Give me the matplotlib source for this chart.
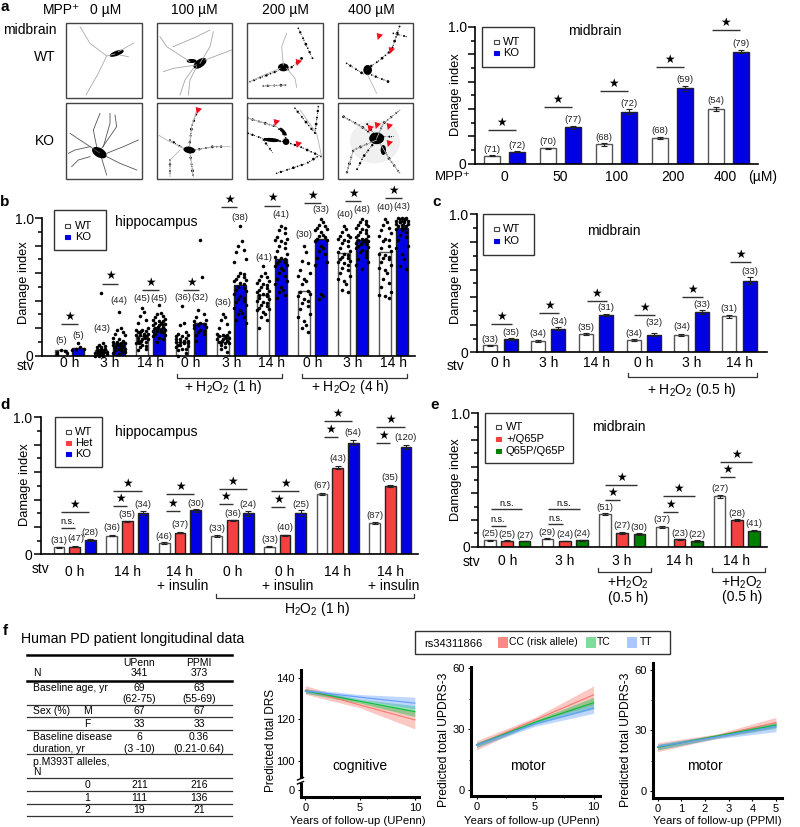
#!/usr/bin/env python3
import numpy as np
import matplotlib
matplotlib.use("Agg")
import matplotlib.pyplot as plt
from matplotlib.patches import Rectangle, Ellipse

plt.rcParams["font.family"] = ["Liberation Sans", "DejaVu Sans"]
plt.rcParams["mathtext.fontset"] = "custom"
plt.rcParams["mathtext.rm"] = "Liberation Sans"
plt.rcParams["mathtext.default"] = "regular"

WHITE, BLUE, RED, GREEN = "white", "#0000e6", "#f54040", "#008000"
H2O2 = "H$_2$O$_2$"

# panel a
a_labels = ["0", "50", "100", "200", "400"]
a_wt = [0.056, 0.11, 0.14, 0.186, 0.40]
a_ko = [0.086, 0.265, 0.38, 0.55, 0.82]
a_wt_err = [0.003, 0.004, 0.009, 0.010, 0.015]
a_ko_err = [0.004, 0.009, 0.016, 0.020, 0.013]
a_wt_n = [71, 70, 68, 68, 54]
a_ko_n = [72, 77, 72, 59, 79]

# panel b
b_labels = ["0 h", "3 h", "14 h", "0 h", "3 h", "14 h", "0 h", "3 h", "14 h"]
b_wt = [0.04, 0.04, 0.143, 0.10, 0.14, 0.44, 0.47, 0.745, 0.75]
b_ko = [0.058, 0.09, 0.204, 0.235, 0.51, 0.705, 0.847, 0.842, 0.927]
b_wt_n = [5, 43, 45, 36, 36, 41, 30, 40, 40]
b_ko_n = [5, 44, 45, 32, 38, 41, 33, 48, 43]
b_wt_pts = [
    [.04, .035, .03, .02, .01],
    [.455, .09, .08, .07, .06, .06, .05, .05, .04, .04, .04, .03, .03, .03, .03, .02, .02, .02, .02, .01, .01, .01, .01, 0, 0, 0],
    [.35, .32, .29, .26, .24, .2, .19, .19, .18, .18, .17, .17, .16, .16, .15, .15, .14, .14, .13, .13, .12, .12, .11, .11, .1, .1, .09, .09, .08, .07, .06, .05, .04],
    [.36, .235, .22, .17, .16, .15, .14, .14, .13, .12, .12, .11, .11, .1, .1, .09, .09, .08, .08, .07, .06, .05, .05, .04, .02, 0],
    [.3, .28, .26, .23, .2, .17, .16, .15, .15, .14, .14, .13, .13, .12, .12, .11, .11, .1, .1, .09, .09, .08, .06, .05, .03],
    [.65, .6, .58, .57, .55, .54, .53, .52, .51, .5, .49, .48, .47, .46, .45, .45, .44, .43, .42, .41, .4, .39, .38, .37, .36, .35, .34, .33, .32, .3, .28, .26, .2],
    [.8, .75, .69, .67, .62, .6, .58, .56, .54, .52, .47, .46, .45, .43, .41, .4, .38, .36, .34, .3, .28, .25, .22, .2, .17],
    [.94, .92, .9, .88, .87, .86, .85, .84, .83, .82, .8, .78, .76, .75, .74, .73, .72, .71, .7, .69, .68, .67, .66, .64, .62, .6, .58, .56, .54, .52, .48, .46],
    [.99, .97, .95, .93, .91, .89, .87, .85, .84, .83, .8, .78, .76, .74, .73, .72, .71, .7, .68, .66, .64, .62, .6, .56, .53, .5, .46, .44, .43, .42],
]
b_ko_pts = [
    [.09, .06, .05, .05, .04],
    [.32, .2, .19, .17, .16, .15, .13, .12, .11, .1, .1, .09, .09, .08, .08, .08, .07, .07, .06, .06, .05, .05, .05, .04, .04, .03, .03, .02, .01],
    [.365, .31, .3, .29, .28, .27, .26, .25, .25, .24, .24, .23, .23, .22, .22, .21, .21, .2, .2, .19, .19, .18, .18, .17, .17, .16, .15, .14, .13, .12, .1],
    [.84, .57, .33, .3, .28, .26, .25, .24, .23, .22, .22, .21, .2, .19, .18, .17, .16, .15, .11],
    [.94, .83, .8, .77, .75, .7, .68, .6, .59, .58, .57, .56, .55, .54, .53, .52, .5, .49, .48, .47, .45, .43, .42, .41, .4, .39, .37, .35, .33, .31, .3, .28, .26, .24],
    [.94, .93, .91, .89, .86, .85, .84, .83, .82, .8, .78, .76, .74, .72, .71, .7, .69, .68, .67, .66, .65, .64, .62, .6, .58, .56, .54, .52, .5, .48, .46, .44, .42],
    [.99, .97, .95, .94, .93, .92, .91, .9, .88, .87, .86, .85, .84, .83, .8, .78, .76, .74, .71, .68, .66, .45, .43, .41],
    [.99, .98, .97, .96, .95, .94, .93, .92, .91, .9, .89, .88, .87, .86, .85, .85, .84, .84, .83, .83, .82, .82, .81, .81, .8, .79, .78, .77, .76, .75, .74, .72, .7, .68, .66, .63],
    [1, 1, 1, .99, .99, .99, .98, .98, .98, .97, .97, .97, .96, .96, .95, .95, .94, .94, .93, .93, .92, .91, .9, .88, .86, .84, .8, .78, .74, .7, .65, .63],
]

# panel c
c_labels = ["0 h", "3 h", "14 h", "0 h", "3 h", "14 h"]
c_wt = [0.05, 0.08, 0.13, 0.087, 0.128, 0.26]
c_ko = [0.097, 0.17, 0.27, 0.128, 0.29, 0.52]
c_wt_err = [0.004, 0.006, 0.008, 0.006, 0.008, 0.011]
c_ko_err = [0.005, 0.012, 0.009, 0.012, 0.015, 0.027]
c_wt_n = [33, 34, 35, 34, 34, 31]
c_ko_n = [35, 34, 31, 32, 33, 33]

# panel d
d_labels = ["0 h", "14 h", "14 h\n+ insulin", "0 h", "0 h\n+ insulin", "14 h", "14 h\n+ insulin"]
d_wt = [0.05, 0.136, 0.083, 0.134, 0.056, 0.438, 0.229]
d_het = [0.056, 0.24, 0.158, 0.248, 0.139, 0.633, 0.50]
d_ko = [0.105, 0.30, 0.32, 0.30, 0.304, 0.815, 0.786]
d_wt_err = [0.004, 0.006, 0.005, 0.006, 0.004, 0.008, 0.009]
d_het_err = [0.004, 0.006, 0.004, 0.005, 0.004, 0.014, 0.007]
d_ko_err = [0.010, 0.013, 0.013, 0.017, 0.021, 0.016, 0.014]
d_wt_n = [31, 36, 46, 33, 33, 67, 87]
d_het_n = [47, 35, 37, 36, 40, 43, 35]
d_ko_n = [28, 34, 30, 24, 25, 54, 120]

# panel e
e_labels = ["0 h", "3 h", "3 h", "14 h", "14 h"]
e_wt = [0.0475, 0.06, 0.2425, 0.1475, 0.3775]
e_het = [0.045, 0.0425, 0.1025, 0.055, 0.20]
e_q65p = [0.0425, 0.0475, 0.095, 0.0425, 0.12]
e_wt_err = [0.002, 0.005, 0.008, 0.005, 0.012]
e_het_err = [0.006, 0.003, 0.009, 0.005, 0.010]
e_q65p_err = [0.003, 0.003, 0.008, 0.004, 0.005]
e_wt_n = [25, 29, 51, 37, 27]
e_het_n = [25, 24, 27, 23, 28]
e_q65p_n = [27, 24, 30, 22, 41]

# panel f, predicted values at start / middle / end of follow-up
f_years_upenn = [0, 5, 10]
f_years_ppmi = [0, 2.5, 5]
drs_cc = [134.3, 127.0, 119.8]
drs_cc_lo = [132.2, 125.6, 115.4]
drs_cc_hi = [136.4, 128.5, 123.8]
drs_tc = [133.8, 128.8, 123.8]
drs_tc_lo = [132.7, 127.9, 121.4]
drs_tc_hi = [135.0, 129.8, 126.7]
drs_tt = [133.8, 130.8, 127.9]
drs_tt_lo = [132.8, 129.5, 125.1]
drs_tt_hi = [134.8, 132.1, 130.8]
up_cc = [22.2, 34.5, 46.9]
up_cc_lo = [19.7, 33.2, 42.2]
up_cc_hi = [24.3, 35.8, 51.3]
up_tc = [22.2, 33.4, 43.0]
up_tc_lo = [21.0, 32.4, 40.0]
up_tc_hi = [23.3, 34.4, 45.7]
up_tt = [22.2, 32.5, 40.3]
up_tt_lo = [21.0, 31.4, 37.8]
up_tt_hi = [23.3, 33.5, 42.7]
pp_cc = [21.7, 27.3, 33.9]
pp_cc_lo = [19.5, 26.1, 31.6]
pp_cc_hi = [24.0, 28.3, 36.5]
pp_tc = [21.7, 27.3, 32.7]
pp_tc_lo = [20.3, 26.3, 31.1]
pp_tc_hi = [23.1, 28.0, 34.4]
pp_tt = [22.0, 26.8, 31.9]
pp_tt_lo = [20.7, 25.9, 29.4]
pp_tt_hi = [23.3, 27.8, 33.6]

table_rows = [
    (158, "", "", "UPenn", "PPMI"),
    (190, "N", "", "341", "373"),
    (235, "Baseline age, yr", "", "69", "63"),
    (268, "", "", "(62-75)", "(55-69)"),
    (303, "Sex (%)", "M", "67", "67"),
    (342, "", "F", "33", "33"),
    (382, "Baseline disease", "", "6", "0.36"),
    (416, "duration, yr", "", "(3 -10)", "(0.21-0.64)"),
    (455, "p.M393T alleles,", "", "", ""),
    (486, "N", "", "", ""),
    (524, "", "0", "211", "216"),
    (563, "", "1", "111", "136"),
    (600, "", "2", "19", "21"),
]

fig = plt.figure(figsize=(8, 8.27), dpi=100)
ov = fig.add_axes([0, 0, 1, 1], zorder=10)
ov.set_xlim(0, 800)
ov.set_ylim(827, 0)
ov.axis("off")


def T(x, y, s, size=10, ha="center", **kw):
    ov.text(x, y, s, fontsize=size, ha=ha, va="center", **kw)


def make_ax(x0, x1, ytop, ybot):
    ax = fig.add_axes([x0 / 800, 1 - ybot / 827, (x1 - x0) / 800, (ybot - ytop) / 827])
    ax.patch.set_alpha(0)
    for s in ["top", "right"]:
        ax.spines[s].set_visible(False)
    return ax


def bar_panel(x0, x1, ytop, ybot, center, spacing, width, offset, series):
    ax = make_ax(x0, x1, ytop, ybot)
    ax.set_xlim((x0 - center) / spacing, (x1 - center) / spacing)
    ax.set_ylim(0, 1)
    ax.set_xticks([])
    ax.set_yticks(np.arange(0, 1.01, 0.2))
    ax.set_yticklabels(["0", "", "", "", "", "1.0"], fontsize=10)
    ax.set_yticks(np.arange(0.1, 1, 0.2), minor=True)
    ax.tick_params(axis="y", which="major", length=5, width=1.1, pad=1)
    ax.tick_params(axis="y", which="minor", length=3, width=1.1)
    ax.spines["left"].set_linewidth(1.2)
    ax.spines["bottom"].set_linewidth(1.2)
    k = len(series)
    for j, s in enumerate(series):
        pos = np.arange(len(s["v"])) + (j - (k - 1) / 2) * offset / spacing
        edge = "#555555" if s["c"] == WHITE else "#222222"
        ax.bar(pos, s["v"], width / spacing, color=s["c"], edgecolor=edge, linewidth=1)
        if s.get("e") is not None:
            ax.errorbar(pos, s["v"], yerr=s["e"], fmt="none", ecolor="#222222",
                        elinewidth=0.8, capsize=2.2, capthick=0.8, clip_on=False)
    return ax


def sig(ax, g, x0, x1, y, label="star"):
    ax.plot([g + x0, g + x1], [y, y], color="#333333", lw=1, clip_on=False, solid_capstyle="butt")
    xm = g + (x0 + x1) / 2
    if label == "star":
        ax.text(xm, y + 0.052, "\u2605", fontsize=8.5, ha="center", va="center", clip_on=False)
    else:
        ax.text(xm, y + 0.045, "n.s.", fontsize=6.5, ha="center", va="center", clip_on=False)


def nlab(ax, x, y, n):
    ax.text(x, y, "(%d)" % n, fontsize=6.8, ha="center", va="center", color="#222222", clip_on=False)


def legend(x0, x1, y0, y1, sx, tx, items):
    ov.add_patch(Rectangle((x0, y0), x1 - x0, y1 - y0, fc="white", ec="#333333", lw=1))
    for y, name, c in items:
        ov.add_patch(Rectangle((sx - 2.5, y - 1.7), 5, 3.4, fc=c, ec="#444444" if c == WHITE else c, lw=0.8))
        T(tx, y, name, 8, ha="left")


def bracket(x0, x1, y0, y1):
    ov.plot([x0, x0, x1, x1], [y0, y1, y1, y0], color="#333333", lw=0.9)


# ---- a: micrographs, hand traced
frames_x = [(66, 142), (157, 232), (247, 323), (338, 413)]
frames_y = [(23, 98), (103, 179)]
neurons = {
    (0, 0): dict(soma=[(350, 160, 45, 15, -20)], col="#aaaaaa",
                 lines=[[(240, 80), (270, 130), (320, 168), (345, 162)], [(320, 168), (295, 220), (258, 285)],
                        [(355, 155), (400, 130)], [(360, 165), (385, 170)]], beads=[], arrows=[]),
    (0, 1): dict(soma=[(600, 190, 45, 24, -35), (575, 183, 30, 12, 0)], col="#a5a5a5",
                 lines=[[(600, 190), (630, 140), (640, 95)], [(590, 195), (520, 205), (490, 215)],
                        [(580, 205), (555, 240), (540, 285)], [(590, 200), (570, 240), (565, 285)],
                        [(615, 180), (695, 150)], [(570, 185), (500, 140), (480, 110)],
                        [(520, 140), (590, 110), (630, 90)]], beads=[], arrows=[]),
    (0, 2): dict(soma=[(850, 202, 32, 24, 0)], col="#b0b0b0",
                 lines=[[(850, 195), (845, 140), (860, 100)], [(840, 205), (780, 230), (750, 245)],
                        [(860, 205), (885, 235), (890, 262)], [(790, 258), (860, 255)]],
                 beads=[[(895, 85), (940, 180)], [(750, 245), (840, 210)], [(790, 258), (860, 255)], [(865, 210), (905, 175)]],
                 arrows=[(893, 185)]),
    (0, 3): dict(soma=[(1103, 210, 26, 30, 0)], col="#b5b5b5", lines=[[(1103, 225), (1130, 280)]],
                 beads=[[(1103, 205), (1140, 180), (1175, 150), (1200, 75)], [(1040, 190), (1095, 225)],
                        [(1115, 225), (1165, 245)], [(1180, 100), (1220, 110)]], arrows=[(1138, 108), (1172, 150)]),
    (1, 0): dict(soma=[(298, 458, 48, 28, 30)], col="#555555",
                 lines=[[(298, 458), (240, 420), (210, 400)], [(270, 440), (225, 450), (205, 460)],
                        [(290, 440), (280, 390), (300, 340)], [(310, 440), (330, 370), (330, 340)],
                        [(320, 460), (370, 440), (415, 420)], [(305, 475), (320, 525)],
                        [(320, 470), (360, 490), (410, 510)], [(305, 445), (350, 380), (345, 345)],
                        [(270, 470), (235, 480), (215, 500)]], beads=[], arrows=[]),
    (1, 1): dict(soma=[(568, 450, 36, 20, 10)], col="#b5b5b5",
                 lines=[[(568, 440), (575, 380), (590, 330)], [(550, 445), (500, 420), (475, 405)],
                        [(585, 450), (640, 440), (690, 440)], [(570, 460), (580, 530)], [(540, 450), (510, 480), (510, 530)]],
                 beads=[[(568, 440), (575, 380), (590, 340)], [(585, 450), (640, 440), (665, 440)],
                        [(570, 460), (580, 530)], [(510, 420), (550, 445)], [(510, 480), (510, 525)]],
                 arrows=[(594, 330)]),
    (1, 2): dict(soma=[(858, 425, 20, 20, 0), (850, 395, 30, 10, 50), (815, 420, 48, 12, 5)], col="#b5b5b5",
                 lines=[[(900, 330), (950, 400), (965, 470)], [(745, 355), (830, 380)]],
                 beads=[[(745, 355), (830, 380), (850, 400), (860, 420)], [(745, 400), (800, 420), (855, 425), (900, 440), (965, 470)],
                        [(830, 520), (920, 490), (960, 465)], [(955, 320), (945, 400)], [(885, 325), (945, 400)],
                        [(790, 420), (820, 460)]],
                 arrows=[(828, 367), (893, 432)]),
    (1, 3): dict(soma=[(1130, 415, 45, 35, 0), (1150, 450, 16, 30, 0)], col="#b5b5b5", halo=(1125, 425, 150, 130),
                 lines=[[(1130, 415), (1150, 370), (1200, 330)], [(1130, 420), (1060, 450), (1040, 520)],
                        [(1140, 430), (1170, 480), (1200, 520)], [(1100, 390), (1030, 350)]],
                 beads=[[(1130, 415), (1150, 370), (1200, 330)], [(1130, 420), (1060, 450), (1040, 520)],
                        [(1140, 430), (1170, 480), (1200, 520)], [(1130, 415), (1085, 380), (1030, 350)],
                        [(1125, 425), (1090, 470), (1070, 510)], [(1135, 410), (1185, 410)], [(1120, 400), (1100, 370)]],
                 arrows=[(1110, 383), (1132, 375), (1168, 378), (1168, 430)]),
}
arrow_marker = [(-0.8, 1), (1, 0.5), (-0.5, -1)]
bead_sizes = [1.4, 0.3, 3, 0.6, 0.2, 2, 0.8, 0.3, 4, 0.4]
for r, (fy0, fy1) in enumerate(frames_y):
    for c, (fx0, fx1) in enumerate(frames_x):
        frame = Rectangle((fx0, fy0), fx1 - fx0, fy1 - fy0, fc="white", ec="#444444", lw=1)
        ov.add_patch(frame)
        n = neurons[(r, c)]
        if "halo" in n:
            hx, hy, hw, hh = n["halo"]
            ov.add_patch(Ellipse((hx / 3, hy / 3), hw / 3, hh / 3, fc="#f0f0f0", ec="none"))
        for line in n["lines"]:
            pts = np.array(line) / 3
            l, = ov.plot(pts[:, 0], pts[:, 1], color=n["col"], lw=0.6)
            l.set_clip_path(frame)
        for line in n["beads"]:
            pts = np.array(line) / 3
            seg = np.r_[0, np.cumsum(np.hypot(*np.diff(pts, axis=0).T))]
            t = np.arange(0, seg[-1], 2.2)
            xs, ys = np.interp(t, seg, pts[:, 0]), np.interp(t, seg, pts[:, 1])
            sz = [bead_sizes[i % 10] for i in range(len(t))]
            sc = ov.scatter(xs, ys, s=sz, color="black", lw=0)
            sc.set_clip_path(frame)
        for x, y, w, h, ang in n["soma"]:
            ov.add_patch(Ellipse((x / 3, y / 3), w / 3, h / 3, angle=ang, fc="black", ec="none"))
        for x, y in n["arrows"]:
            ov.scatter(x / 3, y / 3, s=26, marker=arrow_marker, color="#f01020", lw=0, zorder=5)

T(5, 7, "a", 11, weight="bold")
for x, s in zip([62, 106, 194, 285, 371], ["MPP\u207a", "0 \u00b5M", "100 \u00b5M", "200 \u00b5M", "400 \u00b5M"]):
    T(x, 10, s, 10)
T(30, 30, "midbrain", 10)
T(45, 57, "WT", 10)
T(45, 141, "KO", 10)

ax = bar_panel(475, 758, 27, 163.5, 504.5, 56, 16, 24.5,
               [dict(v=a_wt, e=a_wt_err, c=WHITE), dict(v=a_ko, e=a_ko_err, c=BLUE)])
a_sig = [0.245, 0.414, 0.534, 0.708, 0.98]
for i in range(5):
    sig(ax, i, -0.29, 0.2, a_sig[i])
    nlab(ax, i - 0.22, a_wt[i] + a_wt_err[i] + 0.045, a_wt_n[i])
    nlab(ax, i + 0.22, a_ko[i] + a_ko_err[i] + 0.045, a_ko_n[i])
    T(504.5 + 56 * i - (3 if i == 4 else 0), 177, a_labels[i], 10)
T(435, 177, "MPP\u207a", 9.5, ha="left")
T(763, 177, "(\u00b5M)", 10)
T(595, 31, "midbrain", 10)
T(456, 95, "Damage index", 9.3, rotation=90)
legend(482, 534, 27, 67, 496, 503, [(42, "WT", WHITE), (53, "KO", BLUE)])

# ---- b
ax = bar_panel(42, 415, 218, 355.7, 69.5, 40.5, 12, 17.2,
               [dict(v=b_wt, c=WHITE), dict(v=b_ko, c=BLUE)])


def swarm(vals, yscale, d=2.0):
    placed, out = [], []
    order = [0, d, -d, 2 * d, -2 * d, 3 * d, -3 * d]
    for i, v in enumerate(sorted(vals, reverse=True)):
        best = None
        start = i % len(order)
        for off in order[start:] + order[:start]:
            if all(np.hypot(off - p, (v - q) * yscale) >= 2.6 for p, q in placed):
                best = off
                break
        if best is None:
            best = order[start] / 2
        placed.append((best, v))
        out.append((best, v))
    return np.array(out)


for g in range(9):
    for sign, pts in [(-1, b_wt_pts[g]), (1, b_ko_pts[g])]:
        s = swarm(pts, 137.7)
        ax.scatter(g + sign * 17.2 / 2 / 40.5 + s[:, 0] / 40.5, s[:, 1], s=6.5, color="black", lw=0, zorder=4, clip_on=False)
b_sig = [0.233, 0.524, 0.478, 0.478, 1.078, 1.09, 1.109, 1.121, 1.143]
b_shift = [0, 0, 0, 0, -0.06, 0, 0, 0, 0]
for g in range(9):
    sig(ax, g, -0.206 + b_shift[g], 0.206 + b_shift[g], b_sig[g])
    T(69.5 + 40.5 * g, 363, b_labels[g], 10)
b_wt_lab = [.107, .199, .417, .424, .388, .714, .883, 1.029, 1.078]
b_ko_lab = [.15, .40, .417, .424, 1.007, 1.029, 1.063, 1.063, 1.083]
for g in range(9):
    nlab(ax, g - 0.212, b_wt_lab[g], b_wt_n[g])
    nlab(ax, g + 0.212, b_ko_lab[g], b_ko_n[g])
T(5, 202, "b", 11, weight="bold")
T(26, 366, "stv", 10)
T(156, 222, "hippocampus", 10)
T(24, 283, "Damage index", 9.3, rotation=90)
legend(54, 106, 210, 250, 67, 75, [(226, "WT", WHITE), (237, "KO", BLUE)])
bracket(177, 282, 373.5, 377.5)
bracket(302, 407, 373.5, 377.5)
T(223, 387, "+ " + H2O2 + " (1 h)", 10)
T(350, 387, "+ " + H2O2 + " (4 h)", 10)

# ---- c
ax = bar_panel(476.7, 766.7, 214.3, 352.3, 500.5, 47.8, 14, 20.4,
               [dict(v=c_wt, e=c_wt_err, c=WHITE), dict(v=c_ko, e=c_ko_err, c=BLUE)])
c_sig = [0.203, 0.287, 0.374, 0.27, 0.401, 0.657]
c_wt_lab = [.094, .133, .181, .138, .188, .319]
c_ko_lab = [.145, .225, .326, .213, .348, .587]
for g in range(6):
    sig(ax, g, -0.2, 0.232, c_sig[g])
    nlab(ax, g - 0.213, c_wt_lab[g], c_wt_n[g])
    nlab(ax, g + 0.213, c_ko_lab[g], c_ko_n[g])
    T(500.5 + 47.8 * g, 363, c_labels[g], 10)
T(437, 202, "c", 11, weight="bold")
T(456, 366, "stv", 10)
T(614, 231, "midbrain", 10)
T(456, 283, "Damage index", 9.3, rotation=90)
legend(483, 534, 214, 255, 496, 503, [(229, "WT", WHITE), (241, "KO", BLUE)])
bracket(627.7, 756.7, 373, 377)
T(692, 390, "+ " + H2O2 + " (0.5 h)", 10)

# ---- d
ax = bar_panel(40.7, 418, 417.3, 554.3, 74.7, 52.6, 10.7, 15.7,
               [dict(v=d_wt, e=d_wt_err, c=WHITE), dict(v=d_het, e=d_het_err, c=RED), dict(v=d_ko, e=d_ko_err, c=BLUE)])
d_up = [.311, .465, .438, .479, .465, .973, .93]
d_lo = [.195, .350, .319, .370, .345, .854, .815]
d_wt_lab = [.10, .195, .129, .187, .105, .499, .282]
d_het_lab = [.117, .292, .214, .299, .195, .696, .56]
d_ko_lab = [.161, .363, .372, .367, .367, .886, .852]
for g in range(7):
    sig(ax, g, -0.266, 0.272, d_up[g])
    sig(ax, g, -0.266, 0, d_lo[g], "n.s." if g == 0 else "star")
    nlab(ax, g - 0.298, d_wt_lab[g], d_wt_n[g])
    nlab(ax, g + (0.02 if g == 0 else 0), d_het_lab[g], d_het_n[g])
    nlab(ax, g + 0.298, d_ko_lab[g], d_ko_n[g])
    T(74.7 + 52.6 * g, 572, d_labels[g].split("\n")[0], 10)
    if "\n" in d_labels[g]:
        T(74.7 + 52.6 * g + 3, 586, d_labels[g].split("\n")[1], 10)
T(5, 405, "d", 11, weight="bold")
T(41, 569, "stv", 10)
T(156, 432, "hippocampus", 10)
T(25, 485, "Damage index", 9.3, rotation=90)
legend(55, 102, 417, 467, 68, 75, [(432, "WT", WHITE), (443, "Het", RED), (454, "KO", BLUE)])
bracket(216, 414, 593.5, 597.5)
T(317, 609, H2O2 + " (1 h)", 10)

# ---- e
ax = bar_panel(478.3, 766.7, 413.3, 546.7, 507.3, 57.4, 11.7, 17.3,
               [dict(v=e_wt, e=e_wt_err, c=WHITE), dict(v=e_het, e=e_het_err, c=RED), dict(v=e_q65p, e=e_q65p_err, c=GREEN)])
e_up = [.28, .282, .463, .38, .635]
e_lo = [.158, .168, .348, .263, .523]
e_wt_lab = [.1, .11, .295, .205, .435]
e_het_lab = [.092, .092, .158, .102, .25]
e_q65p_lab = [.082, .098, .145, .092, .172]
for g in range(5):
    lab = "n.s." if g < 2 else "star"
    sig(ax, g, -0.29, 0.262, e_up[g], lab)
    sig(ax, g, -0.29, -0.03, e_lo[g], lab)
    nlab(ax, g - 0.3, e_wt_lab[g], e_wt_n[g])
    nlab(ax, g, e_het_lab[g], e_het_n[g])
    nlab(ax, g + 0.3, e_q65p_lab[g], e_q65p_n[g])
    T(507.3 + 57.4 * g, 561, e_labels[g], 10)
T(435, 405, "e", 11, weight="bold")
T(472, 562, "stv", 10)
T(619, 427, "midbrain", 10)
T(456, 480, "Damage index", 9.3, rotation=90)
legend(485, 573, 413, 463, 498, 506, [(427, "WT", WHITE), (439, "+/Q65P", RED), (451, "Q65P/Q65P", GREEN)])
bracket(598, 651, 568, 572)
bracket(712, 765, 568, 572)
T(628, 583, "+" + H2O2, 10)
T(628, 598, "(0.5 h)", 10)
T(742, 583, "+" + H2O2, 10)
T(742, 597, "(0.5 h)", 10)

# ---- f table
T(3, 631, "f", 11, weight="bold", ha="left")
T(21, 639, "Human PD patient longitudinal data", 10.2, ha="left")
for y, lw in [(654.7, 1.8), (680.7, 1.8), (704.7, 0.9), (717, 0.9), (730, 0.9), (754, 0.9),
              (778.3, 0.9), (791.3, 0.9), (803.7, 0.9), (816.3, 0.9)]:
    ov.plot([27, 232], [y, y], color="black" if lw > 1 else "#333333", lw=lw)
for zy, a0, a1, a2, a3 in table_rows:
    y = 610 + zy / 3
    T(32.7, y, a0, 7.5, ha="left")
    T(87.3, y, a1, 7.5)
    T(139.5, y, a2, 7.5)
    T(199, y, a3, 7.5)

# ---- f lines
CC, TC, TT = "#f8766d", "#00ba38", "#619cff"
ov.add_patch(Rectangle((415, 631), 255, 23, fc="white", ec="#333333", lw=1))
T(424, 644, "rs34311866", 8, ha="left")
for x0, name, tx, c, al in [(498, "CC (risk allele)", 509, CC, 0.85), (586, "TC", 597, TC, 0.5), (627, "TT", 640, TT, 0.55)]:
    ov.add_patch(Rectangle((x0, 637), 10, 11, fc=c, ec="none", alpha=al))
    T(tx, 642, name, 7.5, ha="left")


def bands(ax, x, series):
    for mean, lo, hi, c in series:
        ax.fill_between(x, lo, hi, color=c, alpha=0.4, lw=0)
        ax.plot(x, mean, color=c, lw=0.9, alpha=0.9)


def thick(ax):
    ax.spines["left"].set_linewidth(2.2)
    ax.spines["bottom"].set_linewidth(2.2)
    ax.tick_params(axis="both", which="major", length=2.5, width=0.8, pad=2, labelsize=8)
    ax.tick_params(axis="both", which="minor", length=1.5, width=0.6)


ax = make_ax(300.7, 419, 670, 796.7)
ax.set_xlim(-0.43, 10.38)
ax.set_ylim(82.5, 144)
ax.set_xticks([0, 5, 10])
ax.set_xticks([2.5, 7.5], minor=True)
ax.set_yticks([85.75, 100, 120, 140])
ax.set_yticklabels(["0", "100", "120", "140"])
thick(ax)
bands(ax, f_years_upenn, [(drs_cc, drs_cc_lo, drs_cc_hi, CC), (drs_tc, drs_tc_lo, drs_tc_hi, TC),
                          (drs_tt, drs_tt_lo, drs_tt_hi, TT)])
ov.add_patch(Rectangle((298.5, 779), 5, 4, fc="white", ec="none"))
ov.plot([297.5, 303.5], [780, 777.5], color="black", lw=1)
ov.plot([297.5, 303.5], [784, 781.5], color="black", lw=1)

ax = make_ax(471, 600, 666.7, 796)
ax.set_xlim(-0.47, 10.55)
ax.set_ylim(-3, 60.8)
ax.set_xticks([0, 5, 10])
ax.set_xticks([2.5, 7.5], minor=True)
ax.set_yticks([0, 30, 60])
ax.set_yticks([15, 45], minor=True)
thick(ax)
bands(ax, f_years_upenn, [(up_cc, up_cc_lo, up_cc_hi, CC), (up_tc, up_tc_lo, up_tc_hi, TC),
                          (up_tt, up_tt_lo, up_tt_hi, TT)])

ax = make_ax(652.7, 781.7, 663.3, 797.7)
ax.set_xlim(-0.21, 5.24)
ax.set_ylim(-3.3, 63.3)
ax.set_xticks([0, 1, 2, 3, 4, 5])
ax.set_yticks([0, 30, 60])
ax.set_yticks([15, 45], minor=True)
thick(ax)
bands(ax, f_years_ppmi, [(pp_cc, pp_cc_lo, pp_cc_hi, CC), (pp_tc, pp_tc_lo, pp_tc_hi, TC),
                         (pp_tt, pp_tt_lo, pp_tt_hi, TT)])

T(360, 766, "cognitive", 10)
T(528, 766, "motor", 10)
T(705, 766, "motor", 10)
T(271, 740, "Predicted total DRS", 8.5, rotation=90)
T(444, 740, "Predicted total UPDRS-3", 8.7, rotation=90)
T(626, 740, "Predicted total UPDRS-3", 8.7, rotation=90)
T(358, 820.7, "Years of follow-up (UPenn)", 8.2)
T(532, 820.7, "Years of follow-up (UPenn)", 8.2)
T(717, 820.7, "Years of follow-up (PPMI)", 8.2)

fig.savefig("out.png", dpi=100)
plt.close(fig)
